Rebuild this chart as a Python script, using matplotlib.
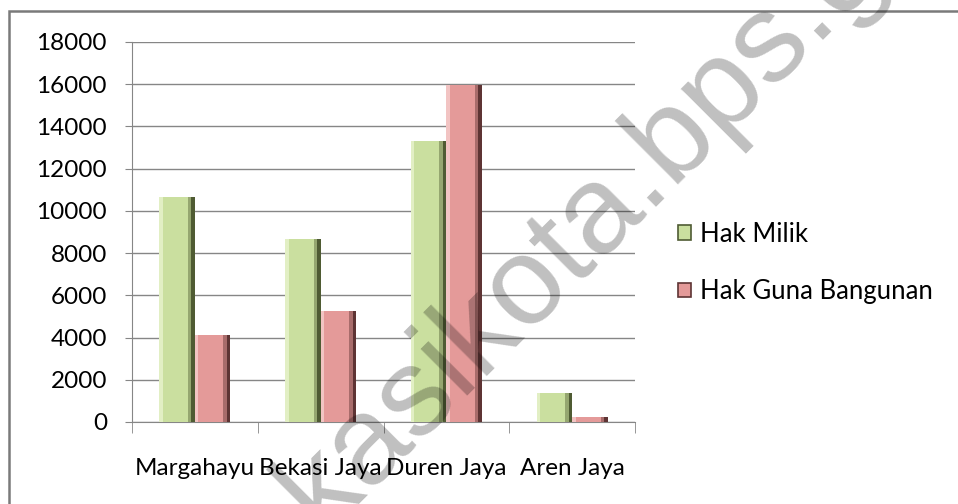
import matplotlib.pyplot as plt
import numpy as np
from matplotlib.patches import Rectangle

plt.rcParams["font.family"] = ["Lato", "DejaVu Sans"]

CATEGORIES = ["Margahayu", "Bekasi Jaya", "Duren Jaya", "Aren Jaya"]
HAK_MILIK = [10650, 8680, 13330, 1390]
HAK_GUNA_BANGUNAN = [4130, 5240, 15960, 230]
SERIES_NAMES = ["Hak Milik", "Hak Guna Bangunan"]
Y_TICKS = list(range(0, 18001, 2000))
WATERMARK = "bekasikota.bps.go.id"

W, H = 958, 504
GREEN = "#cadf9f"
GREEN_MID = "#95a670"
GREEN_DARK = "#4f5b33"
GREEN_LIGHT = "#e2efc4"
PINK = "#e49a99"
PINK_MID = "#a86c6b"
PINK_DARK = "#5e3434"
PINK_LIGHT = "#f2c4c3"
GRID = "#868686"
FS = 17.5


def draw_bevel_bars(ax, x, vals, width, shades, zorder=3):
    # rough stand-in for the Excel bevel: dark right rim, light left rim
    light, face, mid, dark = shades
    left = x - width / 2
    ax.bar(left, vals, width, align="edge", color=dark, zorder=zorder)
    ax.bar(left, vals, width * 0.9, align="edge", color=mid, zorder=zorder + 0.1)
    ax.bar(left, vals, width * 0.8, align="edge", color=face, zorder=zorder + 0.2)
    ax.bar(left, vals, width * 0.1, align="edge", color=light, zorder=zorder + 0.3)


fig = plt.figure(figsize=(W / 100, H / 100), dpi=100)
ax = fig.add_axes([132 / W, 1 - 422 / H, 503 / W, 380 / H])

x = np.arange(len(CATEGORIES))
bw = 0.283
draw_bevel_bars(ax, x - bw / 2, HAK_MILIK, bw, (GREEN_LIGHT, GREEN, GREEN_MID, GREEN_DARK))
draw_bevel_bars(ax, x + bw / 2, HAK_GUNA_BANGUNAN, bw, (PINK_LIGHT, PINK, PINK_MID, PINK_DARK))

ax.set_xlim(-0.5, len(CATEGORIES) - 0.5)
ax.set_ylim(0, 18000)
ax.set_yticks(Y_TICKS)
ax.set_yticklabels([str(v) for v in Y_TICKS], fontsize=FS)
ax.set_xticks(x)
ax.set_xticklabels(CATEGORIES, fontsize=FS)
ax.tick_params(axis="x", length=0, pad=26)
ax.set_xticks(np.arange(-0.5, len(CATEGORIES)), minor=True)
ax.tick_params(axis="x", which="minor", length=8, color=GRID, direction="out")
ax.tick_params(axis="y", length=5, color=GRID, pad=13)
ax.grid(True, axis="y", color=GRID, linewidth=1.0, zorder=0)
ax.set_axisbelow(True)
for side in ["top", "right"]:
    ax.spines[side].set_visible(False)
ax.spines["left"].set_color(GRID)
ax.spines["bottom"].set_color(GRID)

# legend
handles = [Rectangle((0, 0), 1, 1, facecolor=GREEN, edgecolor=GREEN_DARK, linewidth=1.2),
           Rectangle((0, 0), 1, 1, facecolor=PINK, edgecolor=PINK_DARK, linewidth=1.2)]
fig.legend(handles, SERIES_NAMES, loc="center left", bbox_to_anchor=(668 / W, 1 - 263 / H),
           frameon=False, fontsize=18.5, handlelength=0.5, handleheight=0.5,
           handletextpad=0.35, labelspacing=1.25, borderaxespad=0)

# outer chart border
fig.patches.append(Rectangle((9 / W, -0.05), 1.0, 1 - 11 / H + 0.05, transform=fig.transFigure,
                             fill=False, edgecolor="#7a7a7a", linewidth=1.8))

# watermark of the source page
fig.text(225 / W, 1 - 631 / H, WATERMARK, rotation=45, rotation_mode="anchor",
         ha="left", va="baseline", fontsize=90, family="Liberation Sans",
         color="black", alpha=0.25)

fig.savefig("out.png", dpi=100)
